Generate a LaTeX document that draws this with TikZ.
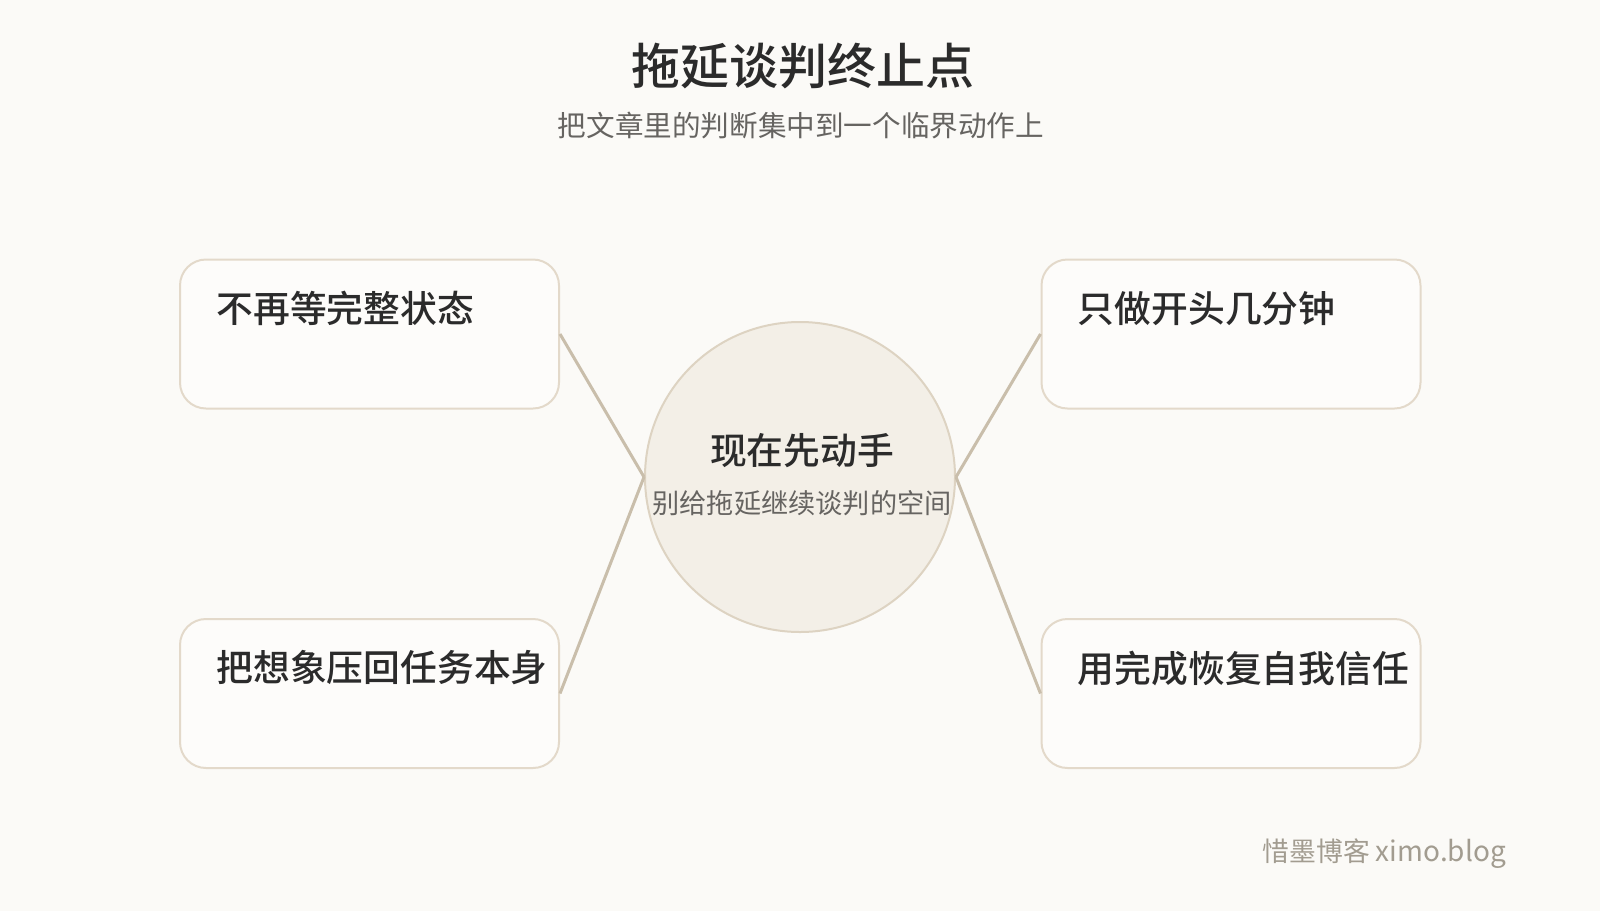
\documentclass[tikz,border=0pt]{standalone}
\usepackage{fontspec}
\setmainfont{Noto Sans CJK SC}
\newfontfamily\medfont{Noto Sans CJK SC Medium}
\usetikzlibrary{positioning}

\definecolor{paper}{HTML}{FBFAF7}
\definecolor{boxfill}{HTML}{FDFCFA}
\definecolor{boxline}{HTML}{E3D9CA}
\definecolor{hubfill}{HTML}{F3EFE7}
\definecolor{hubline}{HTML}{DDD3C2}
\definecolor{spoke}{HTML}{C9BEAB}
\definecolor{ink}{HTML}{2B2B2B}
\definecolor{grey}{HTML}{666461}
\definecolor{mark}{HTML}{A29C90}

\tikzset{
  box/.style={draw=boxline,fill=boxfill,line width=1pt,rounded corners=13pt,
    minimum width=189.5pt,minimum height=74.5pt},
  boxtext/.style={anchor=west,inner sep=0pt,text=ink,font=\medfont\fontsize{18.4pt}{21pt}\selectfont},
  hub/.style={circle,draw=hubline,fill=hubfill,line width=1pt,minimum size=155pt},
  spokeline/.style={draw=spoke,line width=1.5pt}
}

\begin{document}
\begin{tikzpicture}[x=0.5pt,y=-0.5pt]

\fill[paper] (0,0) rectangle (1600,911);
\useasboundingbox (0,0) rectangle (1600,911);

\node[text=ink,font=\medfont\fontsize{24.5pt}{28pt}\selectfont] (title) at (803,66) {拖延谈判终止点};
\node[text=grey,font=\fontsize{14.3pt}{16pt}\selectfont] (subtitle) at (801,126) {把文章里的判断集中到一个临界动作上};

\node[hub] (hub) at (800,477) {};
\node[text=ink,font=\medfont\fontsize{18.4pt}{21pt}\selectfont] (hubtitle) at (802,451) {现在先动手};
\node[text=grey,font=\fontsize{13.6pt}{15pt}\selectfont] (hubsub) at (802,503) {别给拖延继续谈判的空间};

\node[box] (b1) at (369.5,334) {};
\node[box] (b2) at (369.5,693.5) {};
\node[box] (b3) at (1231,334) {};
\node[box] (b4) at (1231,693.5) {};

\node[boxtext] (t1) at ([xshift=18.5pt,yshift=-25pt]b1.north west) {不再等完整状态};
\node[boxtext] (t2) at ([xshift=18.5pt,yshift=-25pt]b2.north west) {把想象压回任务本身};
\node[boxtext] (t3) at ([xshift=18.5pt,yshift=-25pt]b3.north west) {只做开头几分钟};
\node[boxtext] (t4) at ([xshift=18.5pt,yshift=-25pt]b4.north west) {用完成恢复自我信任};

\draw[spokeline] (b1.east) -- (hub.west);
\draw[spokeline] (b2.east) -- (hub.west);
\draw[spokeline] (b3.west) -- (hub.east);
\draw[spokeline] (b4.west) -- (hub.east);

\node[anchor=east,text=mark,font=\fontsize{13.4pt}{15pt}\selectfont] (footer) at (1513,854) {惜墨博客 \fontsize{14pt}{15pt}\selectfont ximo.blog};

\end{tikzpicture}
\end{document}
